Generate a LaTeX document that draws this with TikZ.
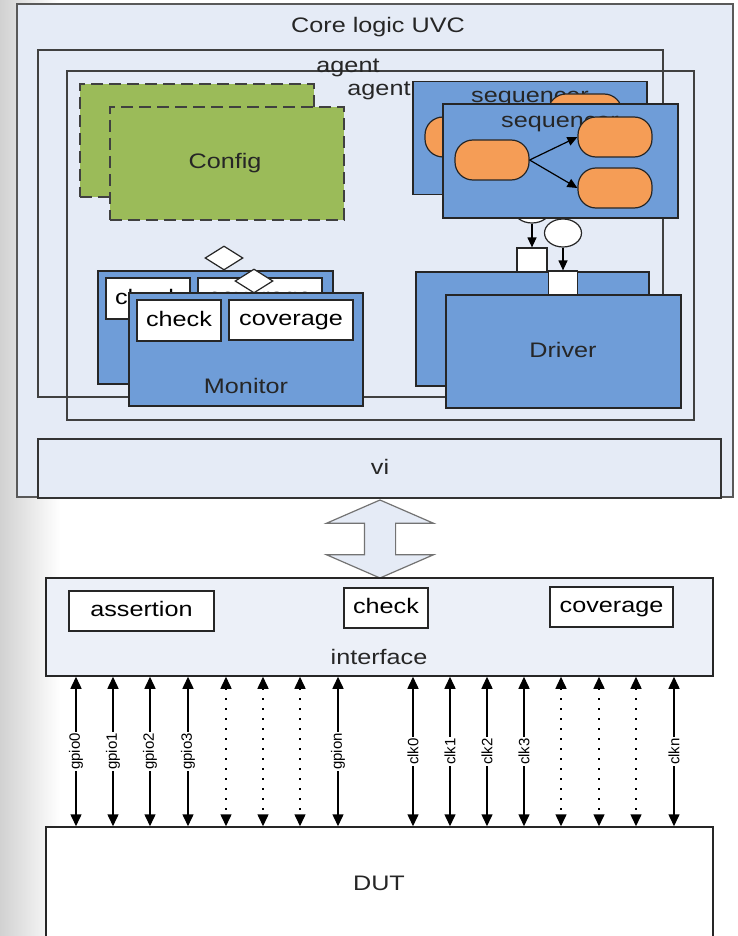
\documentclass[tikz,border=0pt]{standalone}
\usepackage{fontspec}
\setmainfont{Liberation Sans}[FakeStretch=1.2]
\newfontfamily\sigfont{Liberation Sans}
\usepackage{tikz}
\usetikzlibrary{shapes.geometric, shapes.arrows, arrows.meta}

\definecolor{uvcBg}{RGB}{229,235,246}
\definecolor{ifaceBg}{RGB}{236,240,248}
\definecolor{cfgGreen}{RGB}{155,187,89}
\definecolor{blkBlue}{RGB}{111,157,216}
\definecolor{itemOrange}{RGB}{245,157,86}
\definecolor{edgeGray}{RGB}{64,64,64}

\begin{document}
\begin{tikzpicture}[x=1pt, y=-1pt, font=\fontsize{21}{25}\selectfont]
	\tikzstyle{frameBox} = [rectangle, draw=edgeGray, line width=1.5pt, inner sep=0pt]
	\tikzstyle{cfgBox} = [rectangle, draw=black!75, line width=2pt, dash pattern=on 12pt off 6pt, 
	fill=cfgGreen, minimum width=234pt, minimum height=113pt]
	\tikzstyle{blueBox} = [rectangle, draw=black!85, line width=1.5pt, fill=blkBlue, 
	minimum width=234pt, minimum height=113pt]
	\tikzstyle{seqItem} = [rectangle, rounded corners=18pt, draw=black!85, line width=1.2pt, 
	fill=itemOrange, minimum width=74pt, minimum height=40pt]
	\tikzstyle{whiteBox} = [rectangle, draw=black!85, line width=1.5pt, fill=white, 
	minimum height=40pt, text height=15pt, text depth=4pt, inner sep=0pt]
	\tikzstyle{port} = [ellipse, draw=black!85, line width=1.2pt, fill=white, 
	minimum width=37pt, minimum height=28pt, inner sep=0pt]
	\tikzstyle{fifo} = [rectangle, draw=black!85, line width=1.2pt, fill=white, 
	minimum width=30pt, minimum height=24pt, inner sep=0pt]
	\tikzstyle{tap} = [diamond, draw=black!85, line width=1.2pt, fill=white, 
	minimum width=38pt, minimum height=24pt, inner sep=0pt]
	\tikzstyle{txt} = [anchor=base, inner sep=0pt, text=black!85]
	\tikzstyle{arrow} = [line width=1.2pt, -{Triangle[length=10pt, width=9pt]}]
	\tikzstyle{sigLine} = [line width=1.5pt, {Triangle[length=12pt, width=11pt]}-{Triangle[length=12pt, width=11pt]}]
	\tikzstyle{sigDots} = [sigLine, dash pattern=on 1.5pt off 8.5pt]
	\tikzstyle{sigLabel} = [rotate=90, fill=white, inner sep=1pt, font=\sigfont\fontsize{15}{18}\selectfont]
	\useasboundingbox (0,0) rectangle (738,936);
	\fill [white] (0,0) rectangle (738,936);
	\shade [left color=black!18, right color=white] (0,0) rectangle (60,936);
	\node (core) [frameBox, draw=black!65, line width=2pt, fill=uvcBg, minimum width=716pt, minimum height=493pt] at (375,250.5) {};
	\node (coreLabel) [txt] at (378,33) {Core logic UVC};
	\node (agentBack) [frameBox, minimum width=625pt, minimum height=347pt] at (350.5,223.5) {};
	\node (agentFront) [frameBox, minimum width=627pt, minimum height=349pt] at (380.5,245.5) {};
	\node (agentBackLabel) [txt] at (348,72.5) {agent};
	\node (agentFrontLabel) [txt] at (379,96) {agent};
	\node (configBack) [cfgBox] at (196.5,140.5) {};
	\node (configFront) [cfgBox] at (226.5,163.5) {};
	\node (configLabel) [txt] at (225,169) {Config};
	\node (seqBack) [blueBox] at (530,138) {};
	\node (seqBackLabel) [txt] at (530,103) {sequencer};
	\node (itemBackA) [seqItem] at (462,137) {};
	\node (itemBackB) [seqItem] at (585,114) {};
	\node (portBack) [port] at (532,209) {};
	\node (seqFront) [blueBox, minimum width=235pt, minimum height=114pt] at (560.5,161) {};
	\node (seqFrontLabel) [txt] at (560,128) {sequencer};
	\node (itemA) [seqItem] at (492,160) {};
	\node (itemB) [seqItem] at (615,137) {};
	\node (itemC) [seqItem] at (615,188) {};
	\draw [arrow] (itemA.east) -- (itemB.west);
	\draw [arrow] (itemA.east) -- (itemC.west);
	\node (portFront) [port] at (563,233) {};
	\node (drvBack) [blueBox, minimum width=233pt, minimum height=114pt] at (532.5,329) {};
	\node (fifoBack) [fifo] at (532,260) {};
	\node (fifoFront) [fifo, minimum width=29pt] at (563,283) {};
	\draw [arrow] (portBack) -- (fifoBack);
	\draw [arrow] (portFront) -- (fifoFront);
	\node (drvFront) [blueBox, minimum width=235pt] at (563.5,351.5) {};
	\node (drvLabel) [txt] at (563,357) {Driver};
	\node (tapBack) [tap] at (224,258) {};
	\node (monBack) [blueBox, minimum width=235pt] at (215.5,327.5) {};
	\node (checkBack) [whiteBox, minimum width=84pt, minimum height=41pt] at (148,298.5) {check};
	\node (covBack) [whiteBox, minimum width=124pt] at (260,298) {coverage};
	\node (tapFront) [tap] at (254,281) {};
	\node (monFront) [blueBox] at (246,349.5) {};
	\node (checkFront) [whiteBox, minimum width=84pt, minimum height=41pt] at (179,320.5) {check};
	\node (covFront) [whiteBox, minimum width=124pt] at (291,320) {coverage};
	\node (monLabel) [txt] at (246,393) {Monitor};
	\node (vi) [frameBox, draw=black!80, fill=uvcBg, minimum width=683pt, minimum height=59pt] at (379.5,468.5) {};
	\node (viLabel) [txt] at (380,474) {vi};
	\node (bus) [double arrow, draw=black!55, line width=1.2pt, fill=uvcBg, shape border rotate=90, 
	minimum height=78pt, double arrow head extend=38pt, double arrow tip angle=133, 
	inner sep=15pt] at (380,539) {};
	\node (iface) [frameBox, draw=black!85, fill=ifaceBg, minimum width=667pt, minimum height=98pt] at (379.5,627) {};
	\node (ifaceLabel) [txt] at (379,664) {interface};
	\node (assertion) [whiteBox, minimum width=145pt] at (141.5,611) {assertion};
	\node (checkIf) [whiteBox, minimum width=84pt] at (386,608) {check};
	\node (covIf) [whiteBox, minimum width=123pt] at (611.5,607) {coverage};
	\node (dut) [frameBox, draw=black!85, fill=white, minimum width=667pt, minimum height=133pt] at (379.5,893.5) {};
	\node (dutLabel) [txt] at (379,890) {DUT};
	\foreach \x/\name in {76/gpio0, 113/gpio1, 150/gpio2, 188/gpio3, 338/gpion, 413/clk0, 450/clk1, 487/clk2, 524/clk3, 674/clkn}
		\draw [sigLine] (iface.south -| \x,0) -- (dut.north -| \x,0) node [midway, sigLabel] {\name};
	\foreach \x in {226, 263, 300, 561, 599, 636}
		\draw [sigDots] (iface.south -| \x,0) -- (dut.north -| \x,0);
\end{tikzpicture}
\end{document}
